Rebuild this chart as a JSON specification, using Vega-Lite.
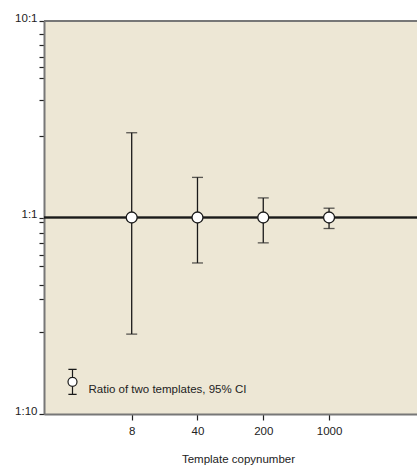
{
  "$schema": "https://vega.github.io/schema/vega-lite/v6.json",
  "width": 373,
  "height": 393,
  "autosize": {"type": "none"},
  "padding": {"left": 44, "top": 21, "right": 0, "bottom": 52},
  "background": "white",
  "config": {
    "view": {"fill": "#ede7d5", "stroke": null},
    "font": "Liberation Sans",
    "axis": {"grid": false, "labelFont": "Liberation Sans", "titleFont": "Liberation Sans", "labelColor": "#222", "titleColor": "#222"}
  },
  "data": {
    "values": [
      {"copies": 8, "ratio": 1, "lo": 0.255, "hi": 2.70},
      {"copies": 40, "ratio": 1, "lo": 0.587, "hi": 1.60},
      {"copies": 200, "ratio": 1, "lo": 0.743, "hi": 1.258},
      {"copies": 1000, "ratio": 1, "lo": 0.879, "hi": 1.115}
    ]
  },
  "layer": [
    {
      "mark": {"type": "rule", "color": "#777777", "strokeWidth": 2},
      "encoding": {"y": {"datum": 10, "type": "quantitative"}}
    },
    {
      "mark": {"type": "rule", "color": "#1a1a1a", "strokeWidth": 1.4},
      "encoding": {"y": {"datum": 1, "type": "quantitative"}}
    },
    {
      "mark": {"type": "rule", "color": "#1a1a1a", "strokeWidth": 1.3},
      "encoding": {
        "x": {"field": "copies", "type": "quantitative"},
        "y": {"field": "lo", "type": "quantitative"},
        "y2": {"field": "hi"}
      }
    },
    {
      "mark": {"type": "tick", "orient": "horizontal", "color": "#1a1a1a", "thickness": 1.3, "size": 11},
      "encoding": {
        "x": {"field": "copies", "type": "quantitative"},
        "y": {"field": "lo", "type": "quantitative"}
      }
    },
    {
      "mark": {"type": "tick", "orient": "horizontal", "color": "#1a1a1a", "thickness": 1.3, "size": 11},
      "encoding": {
        "x": {"field": "copies", "type": "quantitative"},
        "y": {"field": "hi", "type": "quantitative"}
      }
    },
    {
      "mark": {"type": "point", "filled": false, "fill": "white", "fillOpacity": 1, "opacity": 1, "size": 120, "strokeWidth": 1.3},
      "encoding": {
        "x": {
          "field": "copies",
          "type": "quantitative",
          "scale": {"type": "log", "domain": [0.936, 8600], "nice": false},
          "axis": {
            "values": [8, 40, 200, 1000],
            "labelExpr": "datum.value",
            "title": "Template copynumber",
            "titleFontSize": 11.5,
            "titleFontWeight": "normal",
            "titlePadding": 17,
            "titleX": 194,
            "labelFontSize": 11.5,
            "labelPadding": 5,
            "tickSize": 6,
            "tickColor": "#222",
            "tickWidth": 1.2,
            "domainColor": "#777777",
            "domainWidth": 2,
            "labelOverlap": false
          }
        },
        "y": {
          "field": "ratio",
          "type": "quantitative",
          "scale": {"type": "log", "domain": [0.1, 10], "nice": false},
          "axis": {
            "values": [10, 8.57, 7.53, 6.57, 5.8, 5.1, 3.95, 2.59, 1, 0.95, 0.835, 0.738, 0.643, 0.567, 0.452, 0.384, 0.262, 0.1],
            "labelExpr": "datum.value == 10 ? '10:1' : datum.value == 1 ? '1:1' : datum.value == 0.1 ? '1:10' : ''",
            "title": null,
            "labelFontSize": 11.5,
            "labelBaseline": "alphabetic",
            "labelPadding": 2,
            "labelBound": false,
            "labelFlush": false,
            "labelOverlap": false,
            "tickSize": 5,
            "tickColor": "#222",
            "tickWidth": 1.2,
            "domainColor": "#777777",
            "domainWidth": 2
          }
        },
        "stroke": {
          "datum": "Ratio of two templates, 95% CI",
          "type": "nominal",
          "scale": {"range": ["#1a1a1a"]},
          "legend": {
            "title": null,
            "orient": "none",
            "legendX": 15,
            "legendY": 355,
            "symbolType": "M-0.36,-0.616A0.36,0.36 0 1,0 0.36,-0.616A0.36,0.36 0 1,0 -0.36,-0.616Z M0,-0.976L0,-1.616 M-0.33,-1.616L0.33,-1.616 M0,-0.256L0,0.384 M-0.33,0.384L0.33,0.384",
            "symbolSize": 625,
            "symbolFillColor": "white",
            "symbolStrokeWidth": 1.2,
            "symbolStrokeColor": "#1a1a1a",
            "labelFont": "Liberation Sans",
            "labelFontSize": 11.5,
            "labelColor": "#222",
            "labelOffset": 2.5
          }
        }
      }
    }
  ]
}
